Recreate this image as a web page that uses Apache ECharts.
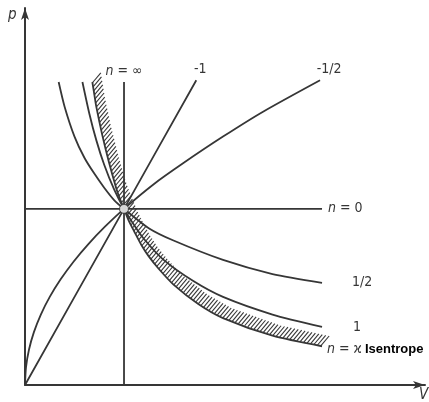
<!DOCTYPE html>
<html>
<head>
<meta charset="utf-8">
<script src="https://cdn.jsdelivr.net/npm/echarts@6/dist/echarts.min.js"></script>
<style>
  html, body { margin: 0; padding: 0; background: #fff; }
  #chart { width: 429px; height: 402px; }
</style>
</head>
<body>
<div id="chart"></div>
<script>
// polytropes p*V^n = const, scaled to the common state point (V0, p0) = (1, 1)
const isobar = [[0, 1], [3.0, 1]];                 // n = 0
const isochore = [[1, 0], [1, 1.72]];              // n = ∞
const nMinusOne = [[0, 0], [1, 1], [1.73, 1.73]];  // n = -1
const nMinusHalf = [[0, 0], [0.01, 0.1], [0.04, 0.2], [0.09, 0.3], [0.16, 0.4], [0.25, 0.5],
  [0.36, 0.6], [0.49, 0.7], [0.64, 0.8], [0.81, 0.9], [1, 1], [1.3, 1.14], [1.6, 1.26],
  [2, 1.41], [2.4, 1.55], [2.98, 1.73]];
const nHalf = [[0.34, 1.72], [0.4, 1.58], [0.5, 1.41], [0.6, 1.29], [0.7, 1.2], [0.8, 1.12],
  [0.9, 1.05], [1, 1], [1.25, 0.89], [1.5, 0.82], [2, 0.71], [2.5, 0.63], [3.0, 0.58]];
const nOne = [[0.58, 1.72], [0.65, 1.54], [0.72, 1.39], [0.8, 1.25], [0.9, 1.11], [1, 1],
  [1.1, 0.91], [1.2, 0.83], [1.4, 0.71], [1.7, 0.59], [2, 0.5], [2.5, 0.4], [3.0, 0.33]];
const nKappa = [[0.68, 1.72], [0.7, 1.65], [0.72, 1.58], [0.78, 1.42], [0.85, 1.26], [0.92, 1.12],
  [0.95, 1.07], [1, 1], [1.05, 0.93], [1.1, 0.875], [1.18, 0.79], [1.25, 0.73], [1.35, 0.66],
  [1.5, 0.57], [1.75, 0.46], [2, 0.38], [2.5, 0.28], [3.0, 0.22]];
const statePoint = [[1, 1]];

const ink = '#363636';
const labelFont = '"DejaVu Sans Condensed", "DejaVu Sans", sans-serif';
const italicN = { fontStyle: 'italic', fontFamily: labelFont, fontSize: 14, color: ink };

function curve(name, pts, label) {
  const data = pts.map(d => d.slice());
  const last = pts[pts.length - 1];
  data[data.length - 1] = {
    value: last,
    symbol: 'circle',
    symbolSize: 0,
    label: Object.assign({
      show: true,
      fontFamily: labelFont,
      fontSize: 14,
      color: ink,
      rich: {
        i: italicN,
        b: { fontFamily: 'Liberation Sans', fontWeight: 'bold', fontSize: 13, color: '#000', padding: [0, 0, 0, 3] }
      }
    }, label)
  };
  return {
    name: name,
    type: 'line',
    data: data,
    smooth: 0.25,
    symbol: 'none',
    showSymbol: true,
    lineStyle: { color: ink, width: 1.8 },
    silent: true,
    z: 3
  };
}

// hatch strokes on the upper-right side of the isentrope, laid out like a "/" pattern
const hatchAngle = 50 * Math.PI / 180;
const hatchLen = 13;
const hatchGap = 3.1;
function hatch(params, api) {
  const i = params.dataIndex;
  if (i >= nKappa.length - 1) return;
  const wx = Math.cos(hatchAngle), wy = -Math.sin(hatchAngle);
  const a = api.coord(nKappa[i]), b = api.coord(nKappa[i + 1]);
  // distance across the hatch lines
  const qa = a[0] * wy - a[1] * wx, qb = b[0] * wy - b[1] * wx;
  const lo = Math.min(qa, qb), hi = Math.max(qa, qb);
  const children = [];
  for (let k = Math.ceil(lo / hatchGap); k * hatchGap < hi; k++) {
    const t = (k * hatchGap - qa) / (qb - qa);
    const x = a[0] + t * (b[0] - a[0]);
    const y = a[1] + t * (b[1] - a[1]);
    children.push({
      type: 'line',
      shape: { x1: x, y1: y, x2: x + wx * hatchLen, y2: y + wy * hatchLen },
      style: { stroke: ink, lineWidth: 1.1 }
    });
  }
  return { type: 'group', children: children };
}

const chart = echarts.init(document.getElementById('chart'));

chart.setOption({
  animation: false,
  backgroundColor: '#fff',
  grid: { left: 25, right: 4, top: 8, bottom: 17 },
  xAxis: {
    type: 'value', min: 0, max: 4.04,
    axisLine: { show: true, symbol: ['none', 'arrow'], symbolSize: [6, 12], lineStyle: { color: ink, width: 2 } },
    axisTick: { show: false }, axisLabel: { show: false }, splitLine: { show: false }
  },
  yAxis: {
    type: 'value', min: 0, max: 2.14,
    axisLine: { show: true, symbol: ['none', 'arrow'], symbolSize: [6, 12], lineStyle: { color: ink, width: 2 } },
    axisTick: { show: false }, axisLabel: { show: false }, splitLine: { show: false }
  },
  graphic: [
    { type: 'text', left: 8, top: 8, style: { text: 'p', font: 'italic 15px ' + labelFont, fill: ink } },
    { type: 'text', left: 419, top: 388, style: { text: 'V', font: 'italic 15px ' + labelFont, fill: ink } }
  ],
  series: [
    curve('n=0', isobar, { position: 'right', distance: 6, formatter: '{i|n} = 0' }),
    curve('n=inf', isochore, { position: 'top', distance: 4, formatter: '{i|n} = ∞' }),
    curve('n=-1', nMinusOne, { position: 'top', distance: 4, offset: [4, 0], formatter: '-1' }),
    curve('n=-1/2', nMinusHalf, { position: 'top', distance: 4, offset: [9, 0], formatter: '-1/2' }),
    curve('n=1/2', nHalf, { position: 'right', distance: 30, formatter: '1/2' }),
    curve('n=1', nOne, { position: 'right', distance: 31, formatter: '1' }),
    curve('n=kappa', nKappa, { position: 'right', distance: 5, offset: [0, 3], formatter: '{i|n} = ϰ{b|Isentrope}' }),
    {
      type: 'custom',
      coordinateSystem: 'cartesian2d',
      data: nKappa,
      encode: { x: 0, y: 1 },
      renderItem: hatch,
      silent: true,
      z: 2
    },
    {
      type: 'scatter',
      data: statePoint,
      symbol: 'circle',
      symbolSize: 9,
      itemStyle: { color: '#fff', borderColor: ink, borderWidth: 1.2 },
      silent: true,
      z: 10
    }
  ]
});
</script>
</body>
</html>
